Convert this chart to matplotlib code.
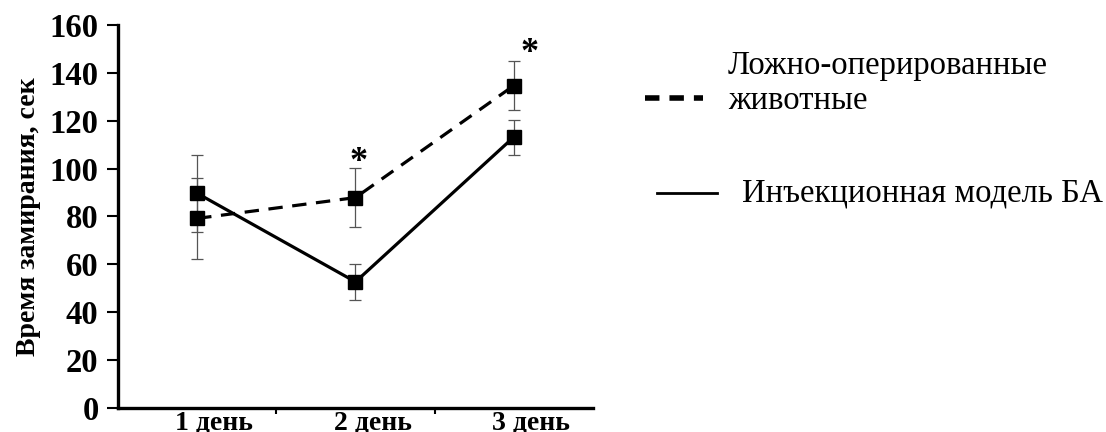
import matplotlib
matplotlib.use("Agg")
import matplotlib.pyplot as plt
from matplotlib.lines import Line2D
import matplotlib.transforms as mtransforms

# Data: freezing time (s) over three test days
days = ["1 день", "2 день", "3 день"]
sham_mean = [79.2, 87.9, 134.7]
sham_err = [17.0, 12.3, 10.2]
model_mean = [89.7, 52.7, 113.2]
model_err = [16.0, 7.4, 7.3]
sham_label = "Ложно-оперированные\nживотные"
model_label = "Инъекционная модель БА"
ylabel = "Время замирания, сек"
yticks = [0, 20, 40, 60, 80, 100, 120, 140, 160]
# significance marks: (day index, height)
stars = [(1, 102.5), (2, 148.0)]

serif = ["Liberation Serif", "DejaVu Serif"]
plt.rcParams["font.family"] = serif

fig = plt.figure(figsize=(11.06, 4.32), dpi=100)
ax = fig.add_axes([118 / 1106, 1 - 408 / 432, 475 / 1106, 383 / 432])

x = list(range(1, len(days) + 1))

ax.errorbar(x, sham_mean, yerr=sham_err, fmt="none", ecolor="#555555",
            elinewidth=0.9, capsize=4, capthick=0.9, zorder=2)
ax.errorbar(x, model_mean, yerr=model_err, fmt="none", ecolor="#555555",
            elinewidth=0.9, capsize=4, capthick=0.9, zorder=2)

ax.plot(x, sham_mean, color="black", lw=2.3, ls=(0, (4.5, 3)),
        marker="s", ms=9.5, mfc="black", mec="black", zorder=3)
ax.plot(x, model_mean, color="black", lw=2.3, ls="-",
        marker="s", ms=9.5, mfc="black", mec="black", zorder=3)

for i, h in stars:
    ax.text(x[i] + (0.1 if i == 2 else 0.02), h, "*", ha="center", va="center",
            fontsize=26, fontweight="bold", family=serif)

ax.set_xlim(0.5, 3.5)
ax.set_ylim(0, 160)
ax.set_yticks(yticks)
ax.set_yticklabels([str(v) for v in yticks], fontsize=23.5, fontweight="bold")
ax.set_xticks([1.5, 2.5], minor=False)
ax.set_xticklabels([])
ax.set_xticks(x, minor=True)
ax.set_xticklabels(days, minor=True, fontsize=20, fontweight="bold")
ax.tick_params(axis="x", which="minor", length=0, pad=2)
ax.tick_params(axis="x", which="major", length=4, width=1.5, direction="out")
ax.tick_params(axis="y", length=8, width=1.5, direction="out", pad=6)
shift = mtransforms.ScaledTranslation(17 / 100, 0, fig.dpi_scale_trans)
for lab in ax.get_xticklabels(minor=True):
    lab.set_transform(lab.get_transform() + shift)

for s in ["top", "right"]:
    ax.spines[s].set_visible(False)
for s in ["left", "bottom"]:
    ax.spines[s].set_linewidth(2.4)
    ax.spines[s].set_color("black")

ax.set_ylabel(ylabel, fontsize=20, fontweight="bold", labelpad=6)

# Legend drawn in figure pixel coordinates
def fx(px):
    return px / 1106

def fy(py):
    return 1 - py / 432

fig.add_artist(Line2D([fx(645), fx(703)], [fy(98), fy(98)], color="black",
                      lw=4, ls=(0, (2.6, 1.8)), transform=fig.transFigure))
fig.text(fx(728), fy(83), sham_label, fontsize=23.5, va="center", ha="left",
         linespacing=1.2)
fig.add_artist(Line2D([fx(657), fx(717)], [fy(193), fy(193)], color="black",
                      lw=2, transform=fig.transFigure))
fig.text(fx(742), fy(193), model_label, fontsize=23.5, va="center", ha="left")

fig.savefig("out.png", dpi=100)
